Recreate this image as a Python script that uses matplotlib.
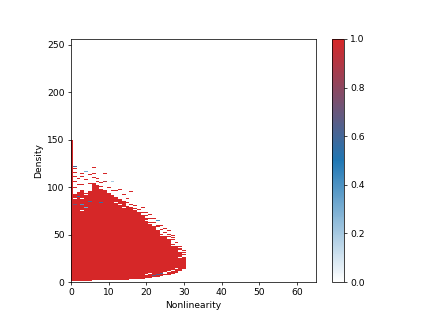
import numpy as np
import matplotlib
matplotlib.use("Agg")
import matplotlib.pyplot as plt
from matplotlib.colors import LinearSegmentedColormap

colors_list = ["#ffffff", "#1f77b4", "#d62728"]
x_label = "Nonlinearity"
y_label = "Density"

# one entry per Nonlinearity bin 0..30: solid red span of Density
solid_bottom = [2, 2, 2, 2, 2, 2, 3, 3, 3, 3, 3, 3, 3, 3, 3, 3, 4, 4, 4, 4, 5, 5, 6, 6, 7, 8, 8, 9, 10, 12, 15]
solid_top = [150, 93, 95, 97, 94, 96, 105, 103, 98, 97, 94, 92, 90, 88, 86, 81, 79, 77, 74, 71, 68, 64, 60, 56, 52, 49, 46, 42, 38, 32, 27]

# scattered cells above the solid area: Nonlinearity, Density, value
stray_x = [1, 1, 1, 1, 1, 1, 2, 2, 3, 3, 3, 4, 4, 5, 5, 6, 6, 6, 6, 7, 7, 8, 8, 9, 9, 10, 11, 12, 11, 13, 14, 15, 15, 16, 16, 17, 17, 18, 19, 19, 20, 20, 21, 21, 22, 22, 23, 23, 24, 24, 25, 25, 26, 26, 27, 27, 28, 28, 29, 29, 29, 30, 30, 30, 29, 30, 28, 27, 26, 23]
stray_y = [122, 120, 115, 111, 106, 100, 109, 103, 114, 111, 103, 116, 108, 113, 104, 121, 118, 114, 110, 106, 109, 101, 105, 106, 114, 100, 106, 96, 96, 97, 92, 88, 84, 95, 82, 77, 81, 76, 73, 78, 73, 70, 67, 71, 63, 67, 60, 58, 55, 60, 52, 56, 50, 54, 47, 45, 42, 39, 37, 34, 35, 33, 31, 29, 27, 14, 35, 49, 48, 65]
stray_v = [0.6, 1, 1, 1, 1, 1, 1, 1, 1, 1, 1, 0.3, 1, 1, 1, 1, 0.55, 1, 1, 1, 1, 1, 1, 0.9, 1, 1, 0.2, 1, 1, 1, 1, 1, 1, 1, 1, 1, 1, 1, 1, 1, 1, 1, 1, 1, 1, 1, 1, 1, 1, 1, 1, 1, 1, 1, 1, 1, 1, 1, 1, 1, 1, 1, 1, 1, 1, 1, 1, 1, 1, 0.4]

# cells inside the solid area with other values or empty (-1 = empty)
hole_x = [20, 21, 22, 23, 24, 25, 25, 26, 27, 28, 22, 23, 24, 29, 29, 3, 3, 3, 2, 4, 8, 12, 13, 14, 5, 1, 1, 4, 3, 17, 20, 21, 24, 27, 27]
hole_y = [8, 9, 7, 8, 9, 9, 10, 11, 12, 14, 60, 55, 49, 20, 26, 88, 82, 79, 90, 92, 84, 84, 82, 78, 85, 88, 82, 78, 75, 76, 65, 62, 51, 41, 38]
hole_v = [-1, -1, 0.65, 0.65, 0.65, -1, -1, -1, -1, -1, -1, -1, -1, -1, -1, -1, 0.4, 0.3, 0.5, -1, 0.55, -1, -1, -1, 0.6, -1, 0.7, 0.3, -1, -1, -1, -1, -1, -1, -1]

nx, ny = 65, 256
grid = np.full((ny, nx), np.nan)
for i, (b, t) in enumerate(zip(solid_bottom, solid_top)):
    grid[b:t, i] = 1.0
for a, b, v in zip(stray_x, stray_y, stray_v):
    grid[b, a] = v
for a, b, v in zip(hole_x, hole_y, hole_v):
    grid[b, a] = np.nan if v < 0 else v

cmap = LinearSegmentedColormap.from_list("wbr", colors_list)

fig = plt.figure(figsize=(423 / 66, 317 / 66), dpi=66)
ax = fig.add_axes([71 / 423, 1 - 282 / 317, 245 / 423, 243 / 317])
mesh = ax.pcolormesh(np.arange(nx + 1) - 0.5, np.arange(ny + 1) - 0.5, grid, cmap=cmap, vmin=0, vmax=1)
ax.set_xlim(0, 65)
ax.set_ylim(0, 256)
ax.set_xlabel(x_label, labelpad=4)
ax.set_ylabel(y_label, labelpad=4)
cax = fig.add_axes([332 / 423, 1 - 282 / 317, 12 / 423, 243 / 317])
fig.colorbar(mesh, cax=cax)
fig.savefig("out.png", dpi=66)
